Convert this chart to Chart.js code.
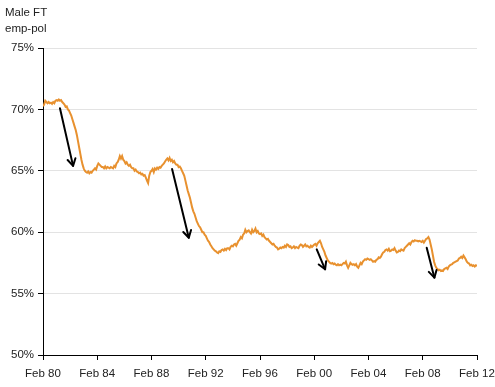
<!DOCTYPE html>
<html>
<head>
<meta charset="utf-8">
<script src="https://cdn.jsdelivr.net/npm/chart.js@4"></script>
<style>
  html, body { margin: 0; padding: 0; background: #fff; }
  #wrap { width: 495px; height: 387px; }
</style>
</head>
<body>
<div id="wrap"><canvas id="c" width="495" height="387"></canvas></div>
<script>
// Title lines
const titleLines = ['Male FT', 'emp-pol'];

// Monthly series: Feb 1980 (index 0) .. Feb 2012 (index 384), % of men in full-time employment
const empPol = [
  70.25,70.4,70.7,70.6,70.5,70.6,70.5,70.55,70.45,70.6,70.5,70.7,70.75,70.7,70.8,70.7,70.75,70.6,70.5,70.4,
  70.2,70.25,70.0,69.9,69.7,69.5,69.2,68.9,68.6,68.3,67.9,67.4,66.9,66.4,65.9,65.5,65.2,65.0,64.9,64.85,
  64.95,64.8,64.9,64.85,65.0,65.1,65.2,65.1,65.4,65.6,65.5,65.4,65.3,65.3,65.2,65.35,65.2,65.3,65.25,65.2,
  65.3,65.25,65.2,65.4,65.3,65.6,65.7,65.9,66.2,66.0,66.2,65.9,65.8,65.6,65.7,65.5,65.4,65.5,65.3,65.2,
  65.2,65.0,65.1,64.95,64.9,64.8,64.85,64.7,64.75,64.6,64.65,64.45,64.2,64.0,64.6,64.9,65.0,65.15,64.9,65.2,
  65.1,65.25,65.15,65.3,65.25,65.4,65.5,65.6,65.75,65.9,66.0,65.85,66.05,65.8,65.9,65.7,65.8,65.6,65.5,65.5,
  65.3,65.35,65.2,65.0,64.8,64.6,64.2,63.8,63.4,63.1,62.8,62.4,62.0,61.7,61.5,61.2,60.9,60.7,60.5,60.4,
  60.2,60.0,60.0,59.8,59.7,59.5,59.3,59.2,59.0,58.85,58.7,58.6,58.5,58.45,58.35,58.3,58.45,58.4,58.55,58.6,
  58.5,58.65,58.55,58.7,58.7,58.6,58.8,58.9,58.85,59.0,59.05,58.9,59.1,59.3,59.4,59.6,59.5,59.8,59.9,60.2,
  60.0,60.1,60.15,60.0,59.9,60.2,60.0,60.1,60.3,60.0,60.1,59.9,59.85,59.9,59.7,59.8,59.6,59.5,59.4,59.45,
  59.3,59.2,59.1,59.0,59.05,58.9,58.8,58.75,58.6,58.65,58.75,58.7,58.8,58.75,58.9,58.8,59.0,58.95,58.8,58.85,
  58.7,58.75,58.85,58.7,58.8,58.75,58.7,58.9,59.0,58.95,58.8,58.9,59.0,58.85,58.9,58.8,58.75,58.9,58.8,58.9,
  59.0,59.05,58.9,59.1,59.2,59.3,59.1,58.8,58.6,58.4,58.1,57.9,57.7,57.6,57.5,57.45,57.5,57.4,57.45,57.35,
  57.3,57.4,57.3,57.35,57.3,57.4,57.5,57.45,57.6,57.3,57.1,57.3,57.5,57.4,57.35,57.4,57.3,57.4,57.2,57.1,
  57.3,57.5,57.4,57.6,57.7,57.8,57.75,57.85,57.8,57.75,57.8,57.7,57.6,57.65,57.6,57.75,57.8,57.95,57.9,58.0,
  58.2,58.35,58.4,58.55,58.6,58.5,58.65,58.45,58.5,58.6,58.55,58.7,58.5,58.35,58.4,58.5,58.45,58.6,58.55,58.5,
  58.7,58.8,58.9,59.0,59.1,59.0,59.2,59.3,59.25,59.35,59.3,59.3,59.25,59.3,59.25,59.2,59.3,59.15,59.3,59.45,
  59.5,59.6,59.4,59.0,58.6,58.1,57.6,57.3,57.1,57.0,56.9,56.95,56.85,56.9,56.85,57.0,57.05,57.1,57.0,57.2,
  57.3,57.35,57.4,57.5,57.55,57.6,57.65,57.7,57.85,57.9,58.0,57.9,58.1,57.95,57.8,57.6,57.5,57.45,57.3,57.35,
  57.25,57.3,57.2,57.3,57.25
];

// Y axis tick values
const yTicks = [50, 55, 60, 65, 70, 75];
// X axis tick labels every 48 months from Feb 80
const xTickLabels = ['Feb 80','Feb 84','Feb 88','Feb 92','Feb 96','Feb 00','Feb 04','Feb 08','Feb 12'];

// Arrows (annotation) in data space: start month index, start value, end month index, end value
const arrowStartIdx = [15.0, 114.2, 242.2, 339.5];
const arrowStartVal = [70.1, 65.15, 58.6, 58.74];
const arrowEndIdx   = [26.6, 129.0, 249.6, 346.3];
const arrowEndVal   = [65.4, 59.55, 56.98, 56.3];

const points = empPol.map((v, i) => ({ x: i, y: v }));

const FONT = "'Liberation Sans', Arial, sans-serif";

const titlePlugin = {
  id: 'titleText',
  afterDraw(chart) {
    const ctx = chart.ctx;
    ctx.save();
    ctx.fillStyle = '#222';
    ctx.font = '11.5px ' + FONT;
    ctx.textBaseline = 'middle';
    ctx.textAlign = 'left';
    ctx.fillText(titleLines[0], 5, 13);
    ctx.fillText(titleLines[1], 5, 29);
    ctx.restore();
  }
};

const arrowPlugin = {
  id: 'arrows',
  afterDatasetsDraw(chart) {
    const xs = chart.scales.x, ys = chart.scales.y, ctx = chart.ctx;
    ctx.save();
    ctx.strokeStyle = '#000';
    ctx.lineWidth = 2;
    ctx.lineCap = 'round';
    ctx.lineJoin = 'round';
    for (let k = 0; k < arrowStartIdx.length; k++) {
      const x1 = xs.getPixelForValue(arrowStartIdx[k]);
      const y1 = ys.getPixelForValue(arrowStartVal[k]);
      const x2 = xs.getPixelForValue(arrowEndIdx[k]);
      const y2 = ys.getPixelForValue(arrowEndVal[k]);
      ctx.beginPath();
      ctx.moveTo(x1, y1);
      ctx.lineTo(x2, y2);
      ctx.stroke();
      const ang = Math.atan2(y2 - y1, x2 - x1);
      const L = 8, a = Math.PI / 6;
      ctx.beginPath();
      ctx.moveTo(x2 - L * Math.cos(ang - a), y2 - L * Math.sin(ang - a));
      ctx.lineTo(x2, y2);
      ctx.lineTo(x2 - L * Math.cos(ang + a), y2 - L * Math.sin(ang + a));
      ctx.stroke();
    }
    ctx.restore();
  }
};

new Chart(document.getElementById('c'), {
  type: 'line',
  data: {
    datasets: [{
      data: points,
      borderColor: '#E8912F',
      borderWidth: 2,
      pointRadius: 0,
      tension: 0,
      fill: false
    }]
  },
  options: {
    responsive: false,
    animation: false,
    devicePixelRatio: 1,
    layout: { padding: { left: 0, right: 18, top: 48, bottom: 0 } },
    plugins: { legend: { display: false }, tooltip: { enabled: false }, title: { display: false } },
    scales: {
      x: {
        type: 'linear',
        min: 0,
        max: 384,
        afterFit(s) { s.height = 32; s.paddingLeft = 0; s.paddingRight = 0; },
        afterBuildTicks(s) { s.ticks = xTickLabels.map((_, i) => ({ value: i * 48 })); },
        ticks: {
          autoSkip: false,
          maxRotation: 0,
          color: '#222',
          font: { family: FONT, size: 11.5 },
          padding: 7,
          callback: (v) => xTickLabels[Math.round(v / 48)]
        },
        grid: { drawOnChartArea: false, drawTicks: true, tickLength: 5, tickColor: '#000', color: '#000' },
        border: { color: '#000', width: 1 }
      },
      y: {
        min: 50,
        max: 75,
        afterFit(s) { s.width = 43; s.paddingTop = 0; s.paddingBottom = 0; },
        afterBuildTicks(s) { s.ticks = yTicks.map(v => ({ value: v })); },
        ticks: {
          color: '#222',
          font: { family: FONT, size: 11.5 },
          padding: 4,
          callback: (v) => v + '%'
        },
        grid: { color: '#e3e3e3', lineWidth: 1, drawTicks: true, tickLength: 5, tickColor: '#000' },
        border: { color: '#000', width: 1 }
      }
    }
  },
  plugins: [titlePlugin, arrowPlugin]
});
</script>
</body>
</html>
